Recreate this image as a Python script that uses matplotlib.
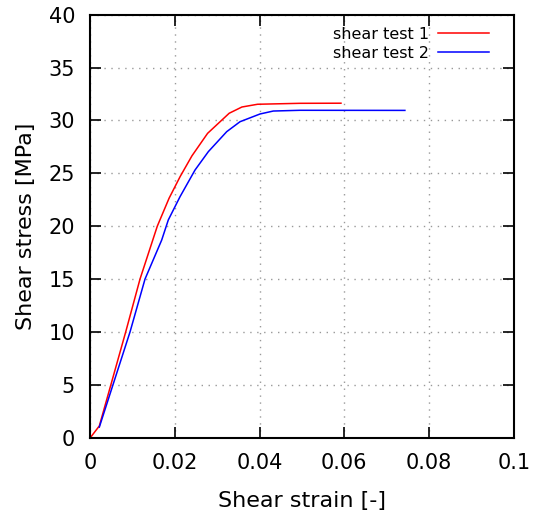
import matplotlib
matplotlib.use("Agg")
import matplotlib.pyplot as plt

# shear test 1 (red)
strain_1 = [0.0, 0.00213, 0.00836, 0.01174, 0.01582, 0.0186, 0.0212, 0.0240,
            0.0277, 0.0328, 0.0358, 0.0395, 0.0495, 0.0592]
stress_1 = [0.0, 1.11, 10.0, 15.0, 20.0, 22.64, 24.68, 26.65,
            28.78, 30.68, 31.27, 31.53, 31.62, 31.63]

# shear test 2 (blue)
strain_2 = [0.00213, 0.00938, 0.01292, 0.01686, 0.01842, 0.02119, 0.02473, 0.02788,
            0.03222, 0.03536, 0.04008, 0.04322, 0.04953, 0.0743]
stress_2 = [1.0, 10.0, 15.0, 18.69, 20.59, 22.79, 25.31, 27.05,
            28.94, 29.88, 30.61, 30.89, 30.96, 30.95]

x_ticks = [0, 0.02, 0.04, 0.06, 0.08, 0.1]
x_labels = ["0", "0.02", "0.04", "0.06", "0.08", "0.1"]
y_ticks = [0, 5, 10, 15, 20, 25, 30, 35, 40]

plt.rcParams["font.family"] = "DejaVu Sans"

fig = plt.figure(figsize=(5.35, 5.21), dpi=100)
ax = fig.add_axes([0.1688, 0.1599, 0.7914, 0.8119])

ax.plot(strain_1, stress_1, color="red", linewidth=1.1, label="shear test 1")
ax.plot(strain_2, stress_2, color="blue", linewidth=1.1, label="shear test 2")

ax.set_xlim(0, 0.1)
ax.set_ylim(0, 40)
ax.set_xticks(x_ticks)
ax.set_xticklabels(x_labels)
ax.set_yticks(y_ticks)

ax.grid(True, color="#999999", linestyle=(0, (1, 4)), linewidth=1.0)
ax.tick_params(direction="in", length=8, width=1.2, top=True, right=True,
               labelsize=15, colors="black")
ax.tick_params(axis="x", pad=11)
ax.tick_params(axis="y", pad=11)
for spine in ax.spines.values():
    spine.set_linewidth(1.5)

ax.set_xlabel("Shear strain [-]", fontsize=16, labelpad=13)
ax.set_ylabel("Shear stress [MPa]", fontsize=16, labelpad=9)

ax.legend(loc="upper right", bbox_to_anchor=(0.9417, 0.972), frameon=False,
          markerfirst=False, fontsize=11.5, handlelength=3.2, borderaxespad=0,
          borderpad=0, labelspacing=0.27, handletextpad=0.55)

fig.savefig("out.png", dpi=100)
